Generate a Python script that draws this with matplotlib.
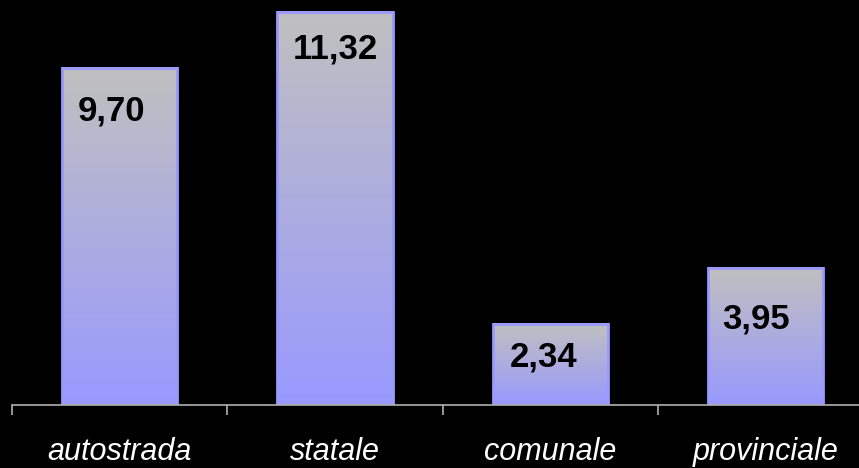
import numpy as np
import matplotlib
matplotlib.use("Agg")
import matplotlib.pyplot as plt
from matplotlib.colors import LinearSegmentedColormap

categories = ["autostrada", "statale", "comunale", "provinciale"]
values = [9.70, 11.32, 2.34, 3.95]
value_labels = ["9,70", "11,32", "2,34", "3,95"]

# label nudges in points (labels were placed by hand in the original)
label_dx = [-6, 0, -5, -7]
label_dy = [-31, -27, -24, -37]

plt.rcParams['font.family'] = ['Liberation Sans', 'DejaVu Sans']

# figure
fig = plt.figure(figsize=(8.59, 4.68), dpi=100, facecolor='black')
ax = fig.add_axes([12 / 859, 63 / 468, 847 / 859, 405 / 468])
ax.set_facecolor('black')

x = np.arange(len(categories))
bars = ax.bar(x, values, width=0.535, facecolor='none', edgecolor='#9999ff',
              linewidth=2, zorder=3)

# vertical gradient inside each bar: grey at top, lavender at bottom
cmap = LinearSegmentedColormap.from_list('grad', ['#9999ff', '#c0c0c0'])
grad = np.linspace(0, 1, 256).reshape(-1, 1)
for b in bars:
    ax.imshow(grad, cmap=cmap, aspect='auto', origin='lower', zorder=2,
              extent=[b.get_x(), b.get_x() + b.get_width(), 0, b.get_height()])

for i, b in enumerate(bars):
    ax.annotate(value_labels[i], (b.get_x() + b.get_width() / 2, b.get_height()),
                xytext=(label_dx[i], label_dy[i]), textcoords='offset points',
                ha='center', va='center', fontsize=25, fontweight='bold',
                color='black', zorder=4)

# axes styling
for s in ['top', 'right', 'left']:
    ax.spines[s].set_visible(False)
ax.spines['bottom'].set_color('#b0b0b0')
ax.spines['bottom'].set_linewidth(1.2)
ax.spines['bottom'].set_zorder(5)
ax.set_yticks([])

ax.set_xticks(np.arange(len(categories) + 1) - 0.5)
ax.set_xticklabels([])
ax.tick_params(axis='x', which='major', length=7, width=1.2, color='#b0b0b0',
               direction='out')
ax.set_xticks(x, minor=True)
ax.set_xticklabels(categories, minor=True, fontsize=22, style='italic', color='white')
ax.tick_params(axis='x', which='minor', length=0, pad=23)

# limits last, set_xticks would widen them otherwise
ax.set_xlim(-0.5, 847 / 215.3 - 0.5)
ax.set_ylim(0, 405 / 34.75)

fig.savefig('out.png', dpi=100, facecolor='black')
